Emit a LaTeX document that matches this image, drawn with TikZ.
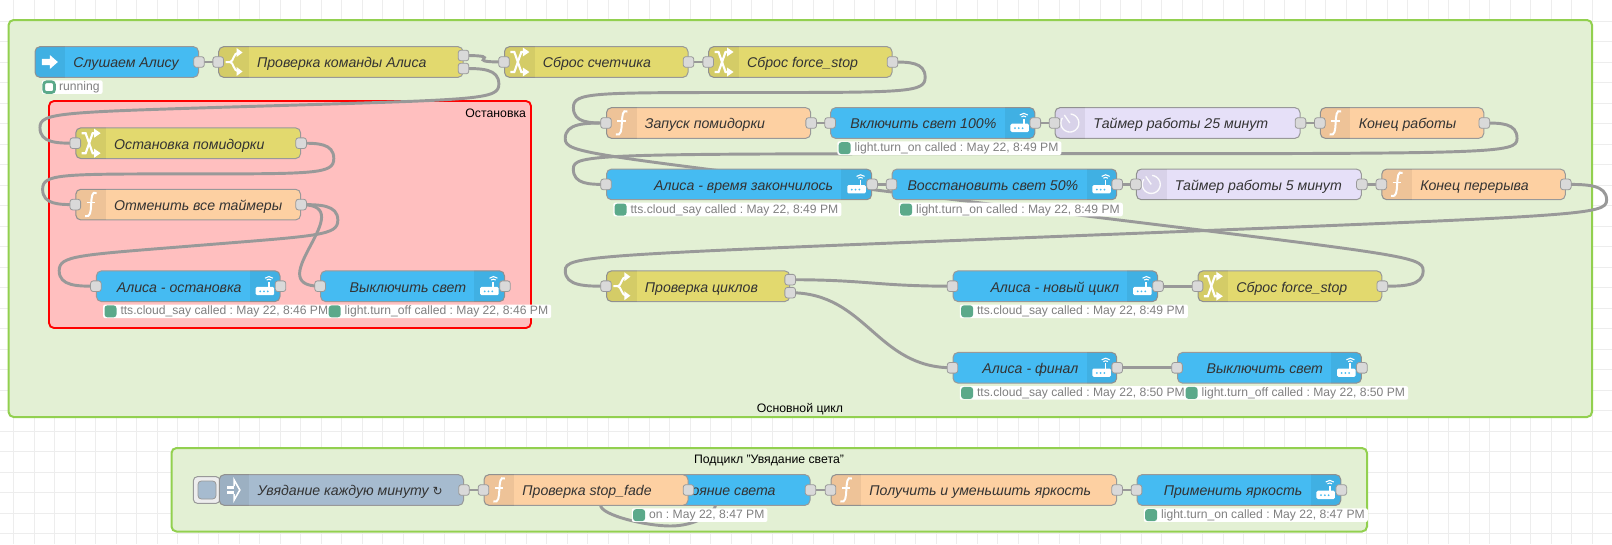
\documentclass[tikz,border=0pt]{standalone}
\usepackage{fontspec}
\usepackage{xcolor}
\setmainfont{Liberation Sans}
\newfontfamily\symfont{DejaVu Sans}
\frenchspacing

\definecolor{flowblue}{HTML}{45BBF2}
\definecolor{flowyellow}{HTML}{E2D96E}
\definecolor{floworange}{HTML}{FDD0A2}
\definecolor{flowlilac}{HTML}{E6E0F8}
\definecolor{flowgrey}{HTML}{A6BBCF}
\definecolor{grpgreen}{HTML}{E3F0D4}
\definecolor{grpedge}{HTML}{92D04F}
\definecolor{grpred}{HTML}{FFBFBF}
\definecolor{statgreen}{HTML}{5BA98A}

\pgfdeclarelayer{groups}
\pgfdeclarelayer{wires}
\pgfsetlayers{groups,wires,main}

\tikzset{
  flow/.style={draw=black!40, line width=0.75pt, rounded corners=3.75pt, minimum height=23pt, inner sep=0pt},
  flowtext/.style={inner sep=0pt, text=black!80, text height=9.5pt, text depth=0.7pt, font=\itshape\fontsize{10.6}{12}\selectfont},
  port/.style={draw=black!40, fill=black!15, line width=0.6pt, rounded corners=2pt, minimum size=8pt, inner sep=0pt},
  wire/.style={draw=black!40, line width=2.2pt},
  iconbar/.style={black, opacity=0.06},
  gridline/.style={draw=black!7, line width=0.5pt},
  status/.style={fill=white, rounded corners=1.5pt, inner xsep=2.25pt, inner ysep=0.5pt, text=black!50, text height=7.2pt, text depth=2pt, font=\fontsize{9.1}{11}\selectfont},
  statdot/.style={fill=statgreen, rounded corners=2.2pt, minimum size=9pt, inner sep=0pt},
  statring/.style={draw=statgreen, fill=white, line width=2pt, rounded corners=2pt, minimum size=8pt, inner sep=0pt},
  grplabel/.style={inner sep=0pt, font=\fontsize{9.2}{11}\selectfont},
  arrowicon/.pic={\fill[white] (-8,-3.2) -- (0,-3.2) -- (0,-7) -- (8,0) -- (0,7) -- (0,3.2) -- (-8,3.2) -- cycle;},
  injicon/.pic={
    \fill[white] (-7,-4) rectangle (0,-1.3);
    \fill[white] (-7,1.3) rectangle (0,4);
    \draw[white, line width=1.2pt] (0,-4) -- (0,-10) -- (5.7,0) -- (0,10) -- (0,4);
  },
  switchicon/.pic={
    \draw[white, line width=1.5pt] (-8,0) -- (-3.5,0) .. controls (0,0) and (0,-9.5) .. (5,-9.5);
    \draw[white, line width=1.5pt] (-3.5,0) .. controls (0,0) and (0,9.5) .. (5,9.5);
    \fill[white] (3,-14) -- (9,-9.5) -- (3,-5) -- cycle;
    \fill[white] (3,14) -- (9,9.5) -- (3,5) -- cycle;
  },
  changeicon/.pic={
    \draw[white, line width=1.6pt] (-9,-10) -- (-5,-10) -- (2,10) -- (5,10);
    \draw[white, line width=1.6pt] (-9,10) -- (-5,10) -- (2,-10) -- (5,-10);
    \fill[white] (3.5,-14.5) -- (10,-10) -- (3.5,-5.5) -- cycle;
    \fill[white] (3.5,14.5) -- (10,10) -- (3.5,5.5) -- cycle;
  },
  funcicon/.pic={
    \draw[white, line width=1.5pt] (6,-11.5) .. controls (1,-14) and (1,-7) .. (0.5,0) .. controls (0,7) and (0,13) .. (-5.5,11.5);
    \draw[white, line width=1.3pt] (-4,-2) -- (4.5,-2);
  },
  timericon/.pic={
    \draw[white, opacity=0.9, line width=1pt] plot[smooth, domain=-85:215, samples=30] ({9*cos(\x)},{9*sin(\x)});
    \draw[white, opacity=0.9, line width=1pt] (0,0) -- (-5.5,-8);
  },
  routericon/.pic={
    \fill[white, rounded corners=1pt] (-9.5,0.7) rectangle (9,9);
    \fill[white] (2.8,-4.5) rectangle (4.6,1);
    \draw[white, line width=0.8pt] (1.5,-6.2) .. controls (2.5,-7.3) and (5,-7.3) .. (6,-6.2);
    \draw[white, line width=0.8pt] (-0.2,-8) .. controls (2,-10.2) and (5.6,-10.2) .. (7.8,-8);
    \foreach \d in {-5,-1.2,2.6} {\fill[flowblue] (\d,5.2) circle (1);}
  },
}

% node with its icon on the left: name, x1, x2, y, colour, icon, text
\newcommand{\leftnode}[7]{
  \node[flow, fill=#5, minimum width={(#3-#2)*0.75pt}] (#1) at ({(#2+#3)/2},#4) {};
  \begin{scope}
    \clip[rounded corners=3.75pt] (#1.north west) rectangle (#1.south east);
    \fill[iconbar] (#1.north west) rectangle ([xshift=23pt]#1.south west);
  \end{scope}
  \pic at ([xshift=11.5pt]#1.west) {#6};
  \node[flowtext, anchor=west] (#1-t) at ([xshift=29pt]#1.west) {#7};
}
% node with its icon on the right, text ends before the icon
\newcommand{\rightnode}[7]{
  \node[flow, fill=#5, minimum width={(#3-#2)*0.75pt}] (#1) at ({(#2+#3)/2},#4) {};
  \begin{scope}
    \clip[rounded corners=3.75pt] (#1.north west) rectangle (#1.south east);
    \fill[iconbar] (#1.north east) rectangle ([xshift=-23pt]#1.south east);
  \end{scope}
  \pic at ([xshift=-11.5pt]#1.east) {#6};
  \node[flowtext, anchor=east] (#1-t) at ([xshift=-29pt]#1.east) {#7};
}
% status under a node
\newcommand{\statusbox}[3][statdot]{
  \node[status, anchor=west] (#2-s) at ([shift={(7,9.3)}]#2.south west) {\hspace{10.75pt}#3};
  \node[#1] (#2-d) at ([xshift=5.7pt]#2-s.west) {};
}
% wire going forward
\newcommand{\wire}[2]{
  \path (#1.center); \pgfgetlastxy{\ox}{\oy}
  \path (#2.center); \pgfgetlastxy{\tx}{\ty}
  \pgfmathsetmacro{\wdx}{(\tx-\ox)/0.75}
  \pgfmathsetmacro{\wctl}{102*(\wdx<102 ? 0.75-0.75*\wdx/102 : 0.75)}
  \draw[wire] (#1.center) .. controls +(\wctl,0) and +(-\wctl,0) .. (#2.center);
}
% wire going back: out to the side, across, and in from the other side
\newcommand{\backwire}[2]{
  \path (#1.center); \pgfgetlastxy{\ox}{\oy}
  \path (#2.center); \pgfgetlastxy{\tx}{\ty}
  \pgfmathsetmacro{\ax}{\ox/0.75}
  \pgfmathsetmacro{\ay}{-\oy/0.75}
  \pgfmathsetmacro{\bx}{\tx/0.75}
  \pgfmathsetmacro{\by}{-\ty/0.75}
  \pgfmathsetmacro{\wdx}{\bx-\ax}
  \pgfmathsetmacro{\wdy}{\by-\ay}
  \pgfmathsetmacro{\wscl}{0.4-0.2*max(0,(102-min(abs(\wdx),abs(\wdy)))/102)}
  \pgfmathsetmacro{\midx}{\bx-(\wdx)/2}
  \pgfmathsetmacro{\midy}{\by-(\wdy)/2}
  \pgfmathsetmacro{\yone}{(\by+\midy)/2}
  \pgfmathsetmacro{\topx}{\ax+102*\wscl}
  \pgfmathsetmacro{\topy}{\wdy>0 ? min(\yone-(\wdy)/2,\ay+15.5) : max(\yone-(\wdy)/2,\ay-15.5)}
  \pgfmathsetmacro{\botx}{\bx-102*\wscl}
  \pgfmathsetmacro{\boty}{\wdy>0 ? max(\yone,\by-15.5) : min(\yone,\by+15.5)}
  \pgfmathsetmacro{\xm}{(\ax+\topx)/2}
  \pgfmathsetmacro{\cay}{\wdy>0 ? max(\ay,\topy-15.5) : min(\ay,\topy+15.5)}
  \pgfmathsetmacro{\cby}{\wdy>0 ? min(\midy,\topy+15.5) : max(\midy,\topy-15.5)}
  \pgfmathsetmacro{\ccy}{\wdy>0 ? max(\midy,\boty-15.5) : min(\midy,\boty+15.5)}
  \draw[wire] (#1.center) .. controls (\xm,\ay) and (\topx,\cay) .. (\topx,\topy)
    .. controls (\topx,{2*\topy-\cay}) and (\xm,\cby) .. (\midx,\midy)
    .. controls ({2*\midx-\xm},{2*\midy-\cby}) and (\botx,\ccy) .. (\botx,\boty)
    .. controls (\botx,{2*\boty-\ccy}) and ({(\bx+\botx)/2},\by) .. (#2.center);
}

\begin{document}
\begin{tikzpicture}[x=0.75pt, y=-0.75pt]
\useasboundingbox (0,0) rectangle (1612,544);

% grid and groups
\begin{pgfonlayer}{groups}
\fill[white] (0,0) rectangle (1612,544);
\foreach \gx in {13.5,34,...,1612} {
  \draw[gridline] (\gx,0) -- (\gx,544);
}
\foreach \gy in {21,41.5,...,544} {
  \draw[gridline] (0,\gy) -- (1612,\gy);
}
\draw[draw=grpedge, fill=grpgreen, line width=1.5pt, rounded corners=3.75pt] (8.6,20) rectangle (1592,417);
\draw[draw=red, fill=grpred, line width=1.4pt, rounded corners=3.75pt] (49,101) rectangle (531,328);
\draw[draw=grpedge, fill=grpgreen, line width=1.5pt, rounded corners=3.75pt] (171.5,448) rectangle (1367,531.5);
\end{pgfonlayer}
\node[grplabel] (mainlabel) at (800,409) {Основной цикл};
\node[grplabel] (stoplabel) at (495.7,113) {Остановка};
\node[grplabel] (fadelabel) at (769,460) {Подцикл "Увядание света"};

% top row
\leftnode{listen}{35}{198.5}{62}{flowblue}{arrowicon}{Слушаем Алису}
\leftnode{chkcmd}{218.7}{463}{62}{flowyellow}{switchicon}{Проверка команды Алиса}
\leftnode{rstcnt}{504.5}{688}{62}{flowyellow}{changeicon}{Сброс счетчика}
\leftnode{rststop}{708.7}{892}{62}{flowyellow}{changeicon}{Сброс force\_stop}

% stop group
\leftnode{stoptom}{75.8}{300.6}{143.2}{flowyellow}{changeicon}{Остановка помидорки}
\leftnode{cancel}{75.8}{300.6}{204.6}{floworange}{funcicon}{Отменить все таймеры}
\rightnode{saystop}{96.4}{280}{286.2}{flowblue}{routericon}{Алиса - остановка}
\rightnode{lightoff}{320.6}{504.5}{286.2}{flowblue}{routericon}{Выключить свет}

% work and break rows
\leftnode{starttom}{606.5}{810.7}{123}{floworange}{funcicon}{Запуск помидорки}
\rightnode{lighton}{830.6}{1034.8}{123}{flowblue}{routericon}{Включить свет 100\%}
\leftnode{timera}{1055}{1300}{123}{flowlilac}{timericon}{Таймер работы 25 минут}
\leftnode{endwork}{1320.3}{1483.8}{123}{floworange}{funcicon}{Конец работы}
\rightnode{saytime}{606.5}{871.6}{184.4}{flowblue}{routericon}{Алиса - время закончилось}
\rightnode{lightlow}{892}{1116.7}{184.4}{flowblue}{routericon}{Восстановить свет 50\%}
\leftnode{timerb}{1136.4}{1361.4}{184.4}{flowlilac}{timericon}{Таймер работы 5 минут}
\leftnode{endbreak}{1381.8}{1565.3}{184.4}{floworange}{funcicon}{Конец перерыва}

% cycle check
\leftnode{chkcycle}{606.5}{789.7}{286.2}{flowyellow}{switchicon}{Проверка циклов}
\rightnode{saynew}{953}{1157.5}{286.2}{flowblue}{routericon}{Алиса - новый цикл}
\leftnode{rststopb}{1198}{1381.8}{286.2}{flowyellow}{changeicon}{Сброс force\_stop}
\rightnode{sayend}{953}{1116.7}{367.8}{flowblue}{routericon}{Алиса - финал}
\rightnode{lightend}{1177.5}{1361.4}{367.8}{flowblue}{routericon}{Выключить свет}

% fade group, the state node lies under the check node
\node[flow, fill=flowblue, minimum width=138.75pt] (getstate) at (717.5,490) {};
\node[flowtext, anchor=east] (getstate-t) at ([xshift=-26pt]getstate.east) {Состояние света};
\node[port] (getstate-i) at (getstate.west) {};
\node[draw=black!40, fill=black!7, line width=0.75pt, rounded corners=3pt, minimum width=20pt, minimum height=20pt, inner sep=0pt] (injbtn) at (206.7,490) {};
\node[draw=black!40, fill=flowgrey, line width=0.6pt, rounded corners=2.5pt, minimum size=13.5pt, inner sep=0pt] (injbtn-in) at (207,490) {};
\leftnode{injfade}{219.3}{463.5}{490}{flowgrey}{injicon}{Увядание каждую минуту {\symfont\upshape\fontsize{9}{11}\selectfont ↻}}
\leftnode{chkfade}{484}{688}{490}{floworange}{funcicon}{Проверка stop\_fade}
\leftnode{dimcalc}{831}{1116.6}{490}{floworange}{funcicon}{Получить и уменьшить яркость}
\rightnode{setlight}{1137}{1340.8}{490}{flowblue}{routericon}{Применить яркость}

% ports
\foreach \nm in {chkcmd,rstcnt,rststop,stoptom,cancel,saystop,lightoff,starttom,lighton,timera,endwork,saytime,lightlow,timerb,endbreak,chkcycle,saynew,rststopb,sayend,lightend,chkfade,dimcalc,setlight} {
  \node[port] (\nm-i) at (\nm.west) {};
}
\foreach \nm in {listen,rstcnt,rststop,stoptom,cancel,saystop,lightoff,starttom,lighton,timera,endwork,saytime,lightlow,timerb,endbreak,saynew,rststopb,sayend,lightend,injfade,chkfade,getstate,dimcalc,setlight} {
  \node[port] (\nm-o) at (\nm.east) {};
}
\foreach \nm in {chkcmd,chkcycle} {
  \node[port] (\nm-a) at ([shift={(0,-6.5)}]\nm.east) {};
  \node[port] (\nm-b) at ([shift={(0,6.5)}]\nm.east) {};
}

% wires
\begin{pgfonlayer}{wires}
\foreach \from/\to in {listen-o/chkcmd-i,chkcmd-a/rstcnt-i,rstcnt-o/rststop-i,cancel-o/lightoff-i,starttom-o/lighton-i,lighton-o/timera-i,timera-o/endwork-i,saytime-o/lightlow-i,lightlow-o/timerb-i,timerb-o/endbreak-i,chkcycle-a/saynew-i,chkcycle-b/sayend-i,saynew-o/rststopb-i,sayend-o/lightend-i,injfade-o/chkfade-i,getstate-o/dimcalc-i,dimcalc-o/setlight-i} {
  \wire{\from}{\to}
}
\foreach \from/\to in {chkcmd-b/stoptom-i,stoptom-o/cancel-i,cancel-o/saystop-i,rststop-o/starttom-i,endwork-o/saytime-i,rststopb-o/starttom-i,endbreak-o/chkcycle-i} {
  \backwire{\from}{\to}
}
\draw[wire] (chkfade-o.center) .. controls +(14,0) and +(0,-8) .. ++(27,15)
  .. controls +(0,8) and +(25,0) .. ++(-45,21)
  .. controls +(-25,0) and +(0,10) .. ++(-70,-21)
  .. controls +(0,-8) and +(-12,0) .. (getstate-i.center);
\end{pgfonlayer}

% status
\statusbox[statring]{listen}{running}
\statusbox{saystop}{tts.cloud\_say called : May 22, 8:46 PM}
\statusbox{lightoff}{light.turn\_off called : May 22, 8:46 PM}
\statusbox{lighton}{light.turn\_on called : May 22, 8:49 PM}
\statusbox{saytime}{tts.cloud\_say called : May 22, 8:49 PM}
\statusbox{lightlow}{light.turn\_on called : May 22, 8:49 PM}
\statusbox{saynew}{tts.cloud\_say called : May 22, 8:49 PM}
\statusbox{sayend}{tts.cloud\_say called : May 22, 8:50 PM}
\statusbox{lightend}{light.turn\_off called : May 22, 8:50 PM}
\statusbox{getstate}{on : May 22, 8:47 PM}
\statusbox{setlight}{light.turn\_on called : May 22, 8:47 PM}

\end{tikzpicture}
\end{document}
